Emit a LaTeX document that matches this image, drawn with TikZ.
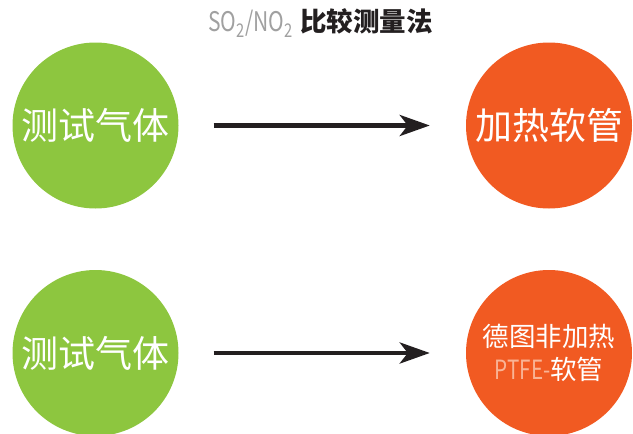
\documentclass[tikz,border=0pt]{standalone}
\usepackage{fontspec}
\setmainfont{Noto Sans CJK SC}
\newfontfamily\thinfont[FakeStretch=0.78]{Noto Sans CJK SC}
\usetikzlibrary{arrows.meta}

\definecolor{gasgreen}{HTML}{8DC63F}
\definecolor{hoseorange}{HTML}{F15A22}
\definecolor{arrowblack}{HTML}{231F20}
\definecolor{titlegray}{HTML}{A0A0A0}
\definecolor{ptfepeach}{HTML}{F9B496}

\tikzset{
  ball/.style={circle,inner sep=0pt,minimum size=166pt,text=white,align=center},
  gasball/.style={ball,fill=gasgreen,font=\fontsize{37}{40}\selectfont},
  hoseball/.style={ball,fill=hoseorange},
  flow/.style={draw=arrowblack,line width=4.7pt,shorten <=35pt,shorten >=36pt,
    -{Stealth[length=30pt,width=21pt,inset=8pt]}}
}

\begin{document}
\begin{tikzpicture}[x=1pt,y=-1pt]
  \useasboundingbox (0,0) rectangle (633,434);

  % Title
  \node (title) at (320.5,23) {{\thinfont\fontsize{27}{30}\selectfont\color{titlegray}SO\textsubscript{2}/NO\textsubscript{2}}\hspace{7pt}%
    {\fontsize{26.5}{30}\selectfont\bfseries\color{arrowblack}比较测量法}};

  % Upper row
  \node[gasball] (gasA) at (95.5,125.5) {测试气体};
  \node[hoseball,font=\fontsize{37}{40}\selectfont] (hoseA) at (549,125.5) {加热软管};
  \draw[flow] (gasA) -- (hoseA);

  % Lower row
  \node[gasball] (gasB) at (95.5,353) {测试气体};
  \node[hoseball,font=\fontsize{26.5}{33}\selectfont] (hoseB) at (549,353)
    {德图非加热\\{\thinfont\color{ptfepeach}PTFE-}软管};
  \draw[flow] (gasB) -- (hoseB);
\end{tikzpicture}
\end{document}
